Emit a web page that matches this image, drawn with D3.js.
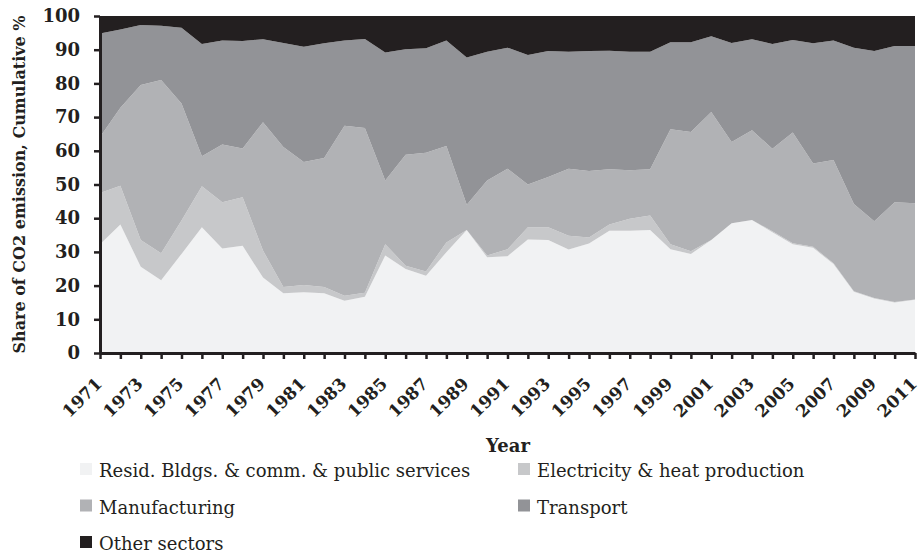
<!DOCTYPE html>
<html>
<head>
<meta charset="utf-8">
<script src="https://cdn.jsdelivr.net/npm/d3@7"></script>
<style>
	body { margin: 0; background: #fff; }
</style>
</head>
<body>
<div id="graph"></div>
<script>
const years = d3.range(1971, 2012);
const sectors = ["Resid. Bldgs. & comm. & public services", "Electricity & heat production", "Manufacturing", "Transport", "Other sectors"];
const colors = ["#f1f2f3", "#c7c8ca", "#b1b2b5", "#929397", "#231f20"];

// shares in %
const resid = [32.3, 38.1, 25.6, 21.6, 29.4, 37.3, 31.0, 31.8, 22.4, 17.7, 18.0, 17.7, 15.5, 16.7,
	28.9, 24.9, 22.9, 29.9, 36.5, 28.4, 28.7, 33.7, 33.5, 30.7, 32.5, 36.3, 36.3,
	36.5, 30.8, 29.4, 33.5, 38.5, 39.5, 35.8, 32.3, 31.2, 26.4, 18.2, 16.2, 15.0, 15.8];
const electricity = [15.2, 11.5, 7.9, 8.0, 9.9, 12.2, 13.7, 14.4, 8.0, 1.9, 2.2, 1.9, 1.5, 1.2,
	3.4, 1.0, 1.3, 2.9, 0.0, 0.5, 2.1, 3.6, 3.8, 4.1, 1.8, 1.8, 3.5,
	4.3, 1.5, 0.8, 0.0, 0.0, 0.0, 0.3, 0.3, 0.3, 0.2, 0.1, 0.1, 0.1, 0.1];
const manufacturing = [16.6, 23.2, 46.0, 51.4, 34.7, 8.9, 17.2, 14.5, 38.1, 41.5, 36.5, 38.3, 50.4, 48.9,
	18.9, 32.9, 35.2, 28.6, 7.5, 22.3, 23.9, 12.7, 14.9, 19.9, 19.7, 16.4, 14.4,
	13.7, 34.1, 35.4, 38.0, 24.1, 26.6, 24.5, 32.8, 24.7, 30.7, 25.9, 22.8, 29.6, 28.5];
const transport = [30.7, 23.2, 17.8, 16.1, 22.5, 33.3, 30.8, 31.9, 24.6, 30.9, 34.2, 34.0, 25.3, 26.4,
	38.0, 31.3, 31.0, 31.3, 43.7, 38.2, 35.9, 38.4, 37.4, 34.7, 35.6, 35.2, 35.2,
	34.9, 25.8, 26.6, 22.5, 29.4, 27.0, 31.1, 27.5, 35.7, 35.4, 46.4, 50.5, 46.4, 46.7];
const other = [5.2, 4.0, 2.7, 2.9, 3.5, 8.3, 7.3, 7.4, 6.9, 8.0, 9.1, 8.1, 7.3, 6.8,
	10.8, 9.9, 9.6, 7.3, 12.3, 10.6, 9.4, 11.6, 10.4, 10.6, 10.4, 10.3, 10.6,
	10.6, 7.8, 7.8, 6.0, 8.0, 6.9, 8.3, 7.1, 8.1, 7.3, 9.4, 10.4, 8.9, 8.9];

const series = [resid, electricity, manufacturing, transport, other];
const table = years.map((yr, i) => {
	const row = { year: yr };
	sectors.forEach((s, k) => (row[s] = series[k][i]));
	return row;
});

const width = 920;
const height = 555;
const font = "'DejaVu Serif', 'Liberation Serif', serif";
const ink = "#231f20";

const x = d3.scalePoint(years, [100, 915]);
const y = d3.scaleLinear([0, 100], [353, 16]);

const stacked = d3.stack().keys(sectors)(table);
const area = d3
	.area()
	.x((d) => x(d.data.year))
	.y0((d) => y(d[0]))
	.y1((d) => y(d[1]));

const svg = d3
	.select("#graph")
	.append("svg")
	.attr("width", width)
	.attr("height", height)
	.attr("viewBox", [0, 0, width, height]);

svg
	.append("g")
	.selectAll("path")
	.data(stacked)
	.join("path")
	.attr("fill", (d, i) => colors[i])
	.attr("d", area);

// y axis
svg
	.append("g")
	.attr("transform", `translate(${x(1971)},0)`)
	.call(d3.axisLeft(y).ticks(10).tickSize(6).tickSizeOuter(0).tickPadding(14))
	.call((g) => g.select(".domain").attr("stroke", ink).attr("stroke-width", 3))
	.call((g) => g.selectAll(".tick line").attr("stroke", ink).attr("stroke-width", 2.5))
	.call((g) =>
		g
			.selectAll(".tick text")
			.attr("font-family", font)
			.attr("font-weight", "bold")
			.attr("font-size", 18)
			.attr("fill", ink)
	);

// x axis
svg
	.append("g")
	.attr("transform", `translate(0,${y(0)})`)
	.call(d3.axisBottom(x).tickSize(6).tickSizeOuter(0).tickFormat(() => ""))
	.call((g) => g.select(".domain").attr("stroke", ink).attr("stroke-width", 3))
	.call((g) => g.selectAll(".tick line").attr("stroke", ink).attr("stroke-width", 2.5));

svg
	.append("g")
	.attr("font-family", font)
	.attr("font-weight", "bold")
	.attr("font-size", 17)
	.attr("fill", ink)
	.attr("text-anchor", "end")
	.selectAll("text")
	.data(years.filter((d, i) => i % 2 === 0))
	.join("text")
	.attr("transform", (d) => `translate(${x(d) + 3},${y(0) + 32}) rotate(-45)`)
	.text((d) => d);

// axis titles
svg
	.append("text")
	.attr("transform", `translate(25,${(y(0) + y(100)) / 2}) rotate(-90)`)
	.attr("text-anchor", "middle")
	.attr("font-family", font)
	.attr("font-weight", "bold")
	.attr("font-size", 16)
	.attr("fill", ink)
	.text("Share of CO2 emission, Cumulative %");

svg
	.append("text")
	.attr("x", 508)
	.attr("y", 452)
	.attr("text-anchor", "middle")
	.attr("font-family", font)
	.attr("font-weight", "bold")
	.attr("font-size", 18)
	.attr("fill", ink)
	.text("Year");

// legend
const legend = svg
	.append("g")
	.attr("font-family", font)
	.attr("font-size", 18)
	.attr("fill", ink)
	.selectAll("g")
	.data(sectors)
	.join("g")
	.attr("transform", (d, i) => `translate(${i % 2 ? 518 : 80},${477 + Math.floor(i / 2) * 36.5})`);

legend
	.append("rect")
	.attr("x", 0)
	.attr("y", -14)
	.attr("width", 12)
	.attr("height", 12)
	.attr("fill", (d, i) => colors[i]);

legend
	.append("text")
	.attr("x", 19)
	.attr("y", 0)
	.text((d) => d);
</script>
</body>
</html>
